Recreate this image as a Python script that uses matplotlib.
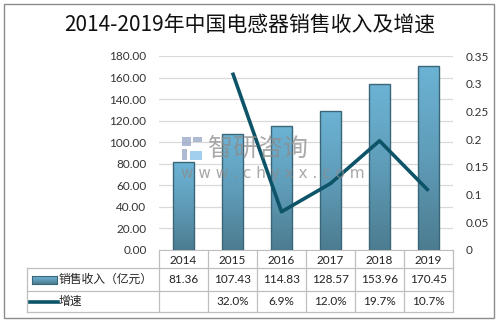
import numpy as np
import matplotlib
matplotlib.use("Agg")
import matplotlib.pyplot as plt
from matplotlib.patches import Rectangle
from matplotlib.lines import Line2D
from matplotlib.colors import LinearSegmentedColormap

plt.rcParams['font.family'] = ['Lato', 'Noto Sans CJK SC', 'DejaVu Sans']

years = ['2014', '2015', '2016', '2017', '2018', '2019']
revenue = [81.36, 107.43, 114.83, 128.57, 153.96, 170.45]
growth = [None, 0.320, 0.069, 0.120, 0.197, 0.107]
growth_labels = ['', '32.0%', '6.9%', '12.0%', '19.7%', '10.7%']
title = '2014-2019年中国电感器销售收入及增速'
series_names = ['销售收入（亿元）', '增速']

W, H = 499, 322
fig = plt.figure(figsize=(W / 100, H / 100), dpi=100)


def fx(px):
    return px / W


def fy(py):
    return 1 - py / H


# outer frame
fig.add_artist(Rectangle((fx(4), fy(318)), fx(490), (314) / H, transform=fig.transFigure,
                         fill=False, edgecolor='#8c8c8c', lw=1.0))

fig.text(0.5, fy(25), title, ha='center', va='center', fontsize=15,
         family=['Noto Sans CJK SC'], fontweight='medium', color='#111111')

left, right, top, bottom = 159, 453, 56, 250
ax = fig.add_axes([fx(left), fy(bottom), fx(right - left), (bottom - top) / H])
ax2 = ax.twinx()

x = np.arange(len(years))
ax.set_ylim(0, 180)
ax.set_yticks(np.arange(0, 181, 20))
ax.set_yticklabels([f'{v:.2f}' for v in np.arange(0, 181, 20)])
ax.yaxis.grid(True, color='#d9d9d9', lw=0.9)
ax.set_axisbelow(True)
ax.set_xticks([])
for s in ['top', 'right', 'left']:
    ax.spines[s].set_visible(False)
ax.spines['bottom'].set_color('#bfbfbf')
ax.tick_params(axis='y', length=0, labelsize=8.5, colors='#333333', pad=9)

cmap = LinearSegmentedColormap.from_list('bar', ['#4c7c90', '#5f9cb8', '#6cb3d4'])
grad = np.linspace(0, 1, 256).reshape(-1, 1)
bw = 0.42
bars = ax.bar(x, revenue, width=bw, color='none', edgecolor='#3b6679', lw=1.0, zorder=3)
for b in bars:
    im = ax.imshow(grad, cmap=cmap, origin='lower', aspect='auto',
                   extent=(b.get_x(), b.get_x() + b.get_width(), 0, b.get_height()), zorder=2)
    im.set_clip_path(b)
ax.set_xlim(-0.5, len(years) - 0.5)
ax.set_ylim(0, 180)

gx = [xi for xi, g in zip(x, growth) if g is not None]
gy = [g for g in growth if g is not None]
ax2.plot(gx, gy, color='#0d5468', lw=2.6, solid_capstyle='butt', zorder=5)
ax2.set_ylim(0, 0.35)
rt = np.round(np.arange(0, 0.351, 0.05), 2)
ax2.set_yticks(rt)
ax2.set_yticklabels(['0'] + [f'{v:g}' for v in rt[1:]])
ax2.tick_params(axis='y', length=0, labelsize=8.5, colors='#333333', pad=9)
for s in ['top', 'right', 'left', 'bottom']:
    ax2.spines[s].set_visible(False)

# watermark drawn on top of the plot
wm_ax = fig.add_axes([0, 0, 1, 1], facecolor='none')
wm_ax.set_xlim(0, W)
wm_ax.set_ylim(H, 0)
wm_ax.axis('off')
wm_ax.text(208, 149, '智研咨询', fontsize=18, family=['Noto Sans CJK SC'],
           color='#8c8c8c', alpha=0.75, ha='left', va='center')
wm_ax.text(181, 173, 'w w w . c h y x x . c o m', fontsize=11, family=['DejaVu Sans'],
           color='#8c8c8c', alpha=0.75, ha='left', va='center')
for (rx, ry, rw, rh, c) in [(182, 137, 9, 9, '#9aa8c8'), (193, 137, 9, 5, '#9aa8c8'),
                            (182, 149, 5, 11, '#9aa8c8'), (190, 151, 12, 9, '#8cc4ea')]:
    wm_ax.add_patch(Rectangle((rx, ry), rw, rh, color=c, alpha=0.8, lw=0))

# data table below the axis
grid_c = '#bfbfbf'
col_edges = [left + i * (right - left) / len(years) for i in range(len(years) + 1)]
rows = [250, 268, 291, 312]
tab_left = 27


def hline(x0, x1, y):
    fig.add_artist(Line2D([fx(x0), fx(x1)], [fy(y), fy(y)], transform=fig.transFigure,
                          color=grid_c, lw=0.9))


def vline(xp, y0, y1):
    fig.add_artist(Line2D([fx(xp), fx(xp)], [fy(y0), fy(y1)], transform=fig.transFigure,
                          color=grid_c, lw=0.9))


hline(tab_left, right, rows[1])
hline(tab_left, right, rows[2])
hline(tab_left, right, rows[3])
vline(tab_left, rows[1], rows[3])
for xe in col_edges:
    vline(xe, rows[0], rows[3])

tcolor = '#222222'
for i, yr in enumerate(years):
    cx = (col_edges[i] + col_edges[i + 1]) / 2
    fig.text(fx(cx), fy((rows[0] + rows[1]) / 2 + 1), yr, ha='center', va='center',
             fontsize=8.5, color=tcolor)
    fig.text(fx(cx), fy((rows[1] + rows[2]) / 2), f'{revenue[i]:.2f}', ha='center',
             va='center', fontsize=8.5, color=tcolor)
    fig.text(fx(cx), fy((rows[2] + rows[3]) / 2), growth_labels[i], ha='center',
             va='center', fontsize=8.5, color=tcolor)

# legend keys inside the table
ky = (rows[1] + rows[2]) / 2
kax = fig.add_axes([fx(32), fy(ky + 4), 25 / W, 8 / H])
kax.imshow(grad, cmap=cmap, origin='lower', aspect='auto', extent=(0, 1, 0, 1))
kax.set_xticks([]); kax.set_yticks([])
for s in kax.spines.values():
    s.set_color('#3b6679'); s.set_linewidth(0.8)
fig.text(fx(59), fy(ky), series_names[0], ha='left', va='center', fontsize=8.5,
         family=['Noto Sans CJK SC'], color=tcolor)
ly = (rows[2] + rows[3]) / 2
fig.add_artist(Line2D([fx(30), fx(58)], [fy(ly), fy(ly)], transform=fig.transFigure,
                      color='#0d5468', lw=2.6))
fig.text(fx(59), fy(ly), series_names[1], ha='left', va='center', fontsize=8.5,
         family=['Noto Sans CJK SC'], color=tcolor)

fig.savefig('out.png', dpi=100)
